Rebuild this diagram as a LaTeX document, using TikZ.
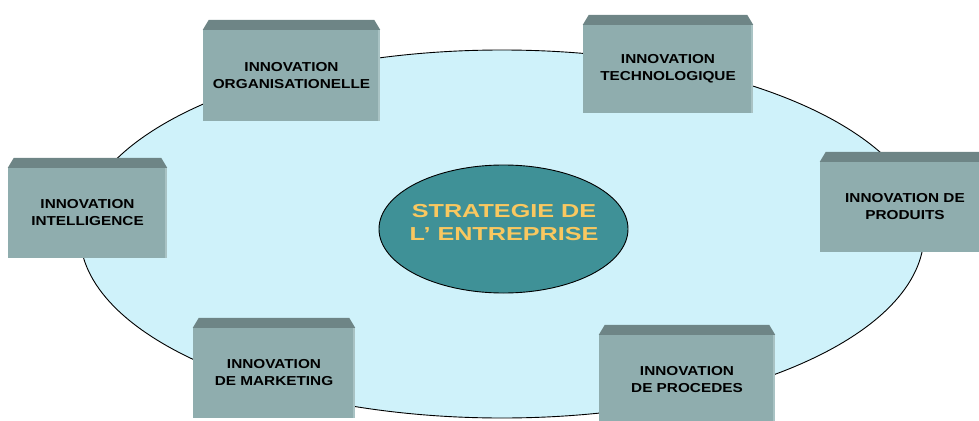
\documentclass[tikz,border=0pt]{standalone}
\usepackage{fontspec}
\setmainfont{Liberation Sans}
\newfontfamily\boxfont[FakeStretch=1.18]{Liberation Sans}
\newfontfamily\centfont[FakeStretch=1.34]{Liberation Sans}
\usetikzlibrary{shapes.geometric}
\definecolor{planec}{HTML}{CFF2FA}
\definecolor{stratc}{HTML}{3F9197}
\definecolor{goldc}{HTML}{F9C860}
\definecolor{frontc}{HTML}{8FADAE}
\definecolor{topc}{HTML}{6E8586}
\definecolor{edgec}{HTML}{A9C3C4}
\tikzset{
  innobox/.style={rectangle, fill=frontc, inner sep=0pt, align=center,
    font=\boxfont\bfseries\fontsize{13}{17}\selectfont, text=black},
  plane/.style={ellipse, draw=black, line width=0.9pt, fill=planec, inner sep=0pt},
  stratell/.style={ellipse, draw=black, line width=0.9pt, fill=stratc, inner sep=0pt},
  strattxt/.style={align=center, text=goldc, font=\centfont\bfseries\fontsize{18.8}{23}\selectfont}
}
\begin{document}
\begin{tikzpicture}[x=1pt,y=-1pt]
\useasboundingbox (0,0) rectangle (979,420);
\clip (0,0) rectangle (979,420);
\node[plane, minimum width=844pt, minimum height=368pt] (pl) at (502,234) {};
\node[stratell, minimum width=249pt, minimum height=128pt] (strat) at (503.5,229) {};
\node[strattxt] (stratlab) at (504,223) {STRATEGIE DE\\L’ ENTREPRISE};

\node[innobox, minimum width=177pt, minimum height=91pt] (org) at (291.5,75.5) {INNOVATION\\ORGANISATIONELLE};
\node[innobox, minimum width=170pt, minimum height=88pt] (tech) at (668,69) {INNOVATION\\TECHNOLOGIQUE};
\node[innobox, minimum width=159pt, minimum height=90pt] (intel) at (87.5,213) {INNOVATION\\INTELLIGENCE};
\node[innobox, minimum width=170pt, minimum height=90pt] (prod) at (905,207) {INNOVATION DE\\PRODUITS};
\node[innobox, minimum width=162pt, minimum height=90pt] (mark) at (274,373) {INNOVATION\\DE MARKETING};
\node[innobox, minimum width=176pt, minimum height=95pt] (proc) at (687,382.5) {};
\node[innobox] (proclab) at (687,380) {INNOVATION\\DE PROCEDES};

\foreach \b in {org,tech,intel,prod,mark,proc}{
  \fill[edgec] ([xshift=-2pt]\b.north east) rectangle (\b.south east);
  \fill[topc] (\b.north west) -- ([xshift=6pt,yshift=10pt]\b.north west)
     -- ([xshift=-6pt,yshift=10pt]\b.north east) -- (\b.north east) -- cycle;
}
\end{tikzpicture}
\end{document}
